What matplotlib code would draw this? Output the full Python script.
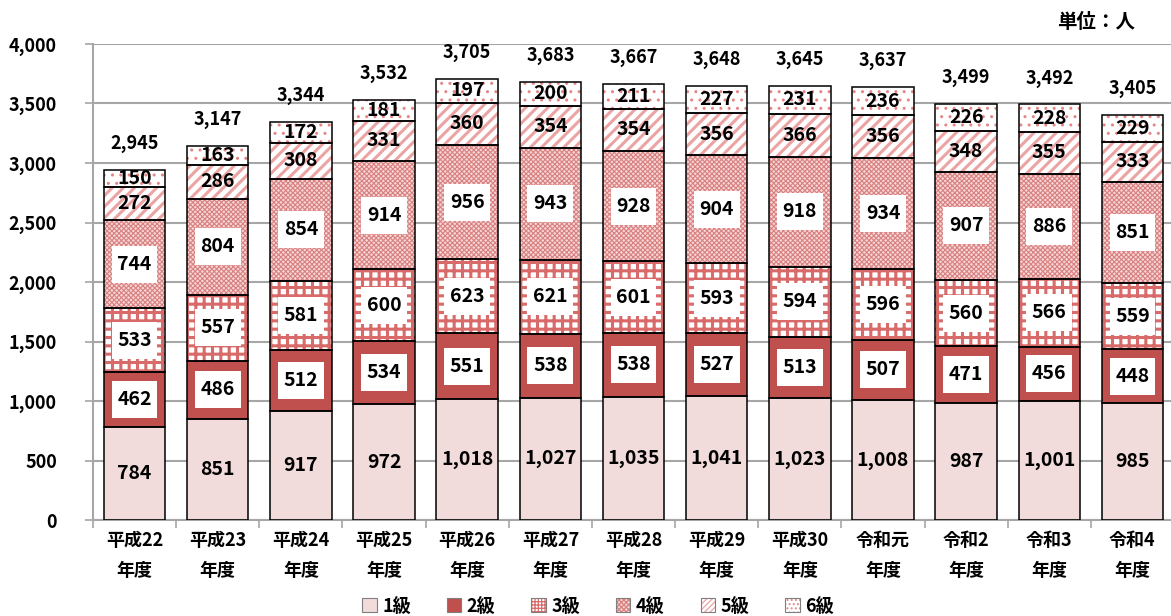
import matplotlib
matplotlib.use("Agg")
import matplotlib.pyplot as plt
from matplotlib.patches import Rectangle, Patch
from matplotlib.legend_handler import HandlerTuple
import numpy as np

plt.rcParams['font.family'] = ['Noto Sans CJK JP', 'DejaVu Sans']

categories = ["平成22\n年度", "平成23\n年度", "平成24\n年度", "平成25\n年度", "平成26\n年度",
              "平成27\n年度", "平成28\n年度", "平成29\n年度", "平成30\n年度", "令和元\n年度",
              "令和2\n年度", "令和3\n年度", "令和4\n年度"]
series_names = ["1級", "2級", "3級", "4級", "5級", "6級"]
grade1 = [784, 851, 917, 972, 1018, 1027, 1035, 1041, 1023, 1008, 987, 1001, 985]
grade2 = [462, 486, 512, 534, 551, 538, 538, 527, 513, 507, 471, 456, 448]
grade3 = [533, 557, 581, 600, 623, 621, 601, 593, 594, 596, 560, 566, 559]
grade4 = [744, 804, 854, 914, 956, 943, 928, 904, 918, 934, 907, 886, 851]
grade5 = [272, 286, 308, 331, 360, 354, 354, 356, 366, 356, 348, 355, 333]
grade6 = [150, 163, 172, 181, 197, 200, 211, 227, 231, 236, 226, 228, 229]
yticks = [0, 500, 1000, 1500, 2000, 2500, 3000, 3500, 4000]

series = [grade1, grade2, grade3, grade4, grade5, grade6]
styles = [
    dict(fc="#F2DCDB", hatch=None, lhatch=None, hc="#F2DCDB", hlw=1.0, box=False),
    dict(fc="#C0504D", hatch=None, lhatch=None, hc="#C0504D", hlw=1.0, box=True),
    dict(fc="white", hatch="++", lhatch="+++++", hc="#D86A6A", hlw=2.2, box=True),
    dict(fc="#F6D6D6", hatch="xxxxxxx", lhatch="xxxxxxx", hc="#D98080", hlw=0.8, box=True),
    dict(fc="white", hatch="///", lhatch="//////", hc="#EBA3A3", hlw=2.2, box=False),
    dict(fc="white", hatch="..", lhatch="....", hc="#E58585", hlw=1.0, box=False),
]

fig = plt.figure(figsize=(11.71, 6.16), dpi=100)
ax = fig.add_axes([93/1171, 1-520/616, (1174-93)/1171, (520-44)/616])

x = np.arange(len(categories))
width = 0.74
bottom = np.zeros(len(categories))
px_per_unit = (520-44)/4000.0
handles = []
for vals, st, name in zip(series, styles, series_names):
    vals = np.array(vals, dtype=float)
    plt.rcParams['hatch.linewidth'] = st["hlw"]
    ax.bar(x, vals, width, bottom=bottom, color=st["fc"], edgecolor=st["hc"],
           hatch=st["hatch"], linewidth=0, zorder=2)
    ax.bar(x, vals, width, bottom=bottom, fill=False, edgecolor="black",
           linewidth=1.1, zorder=3)
    plt.rcParams['hatch.linewidth'] = 0.9
    hp = Patch(facecolor=st["fc"], edgecolor=st["hc"], hatch=st["lhatch"], linewidth=0)
    op = Patch(fill=False, edgecolor="#7F7F7F", linewidth=0.8)
    handles.append((hp, op))
    mids = bottom + vals/2
    for xi, m, v in zip(x, mids, vals):
        if st["box"]:
            bh = 37/px_per_unit
            ax.add_patch(Rectangle((xi-0.275, m-bh/2), 0.55, bh, facecolor="white",
                                   edgecolor="none", zorder=4))
        ax.text(xi, m, f"{int(v):,}", ha="center", va="center", fontsize=14,
                fontweight="bold", zorder=5)
    bottom = bottom + vals

for xi, t in zip(x, bottom):
    ax.annotate(f"{int(t):,}", (xi, t), xytext=(0, 19), textcoords="offset points",
                ha="center", va="center", fontsize=13, fontweight="bold")

ax.set_xlim(-0.5, len(categories)-0.5)
ax.set_ylim(0, 4000)
ax.set_yticks(yticks)
ax.set_yticklabels([f"{v:,}" for v in yticks], fontsize=13, fontweight="bold")
ax.set_xticks(x)
ax.set_xticklabels(categories, fontsize=13, fontweight="bold", linespacing=1.75)
ax.set_xticks(np.arange(-0.5, len(categories)), minor=True)
ax.tick_params(axis="x", which="major", length=0, pad=8)
ax.tick_params(axis="x", which="minor", length=6, color="#A6A6A6", width=1.2)
ax.tick_params(axis="y", length=6, color="#A6A6A6", width=1.2, pad=20)
ax.yaxis.grid(True, color="#A6A6A6", linewidth=1.5, zorder=0)
ax.set_axisbelow(True)
for s in ["top", "right"]:
    ax.spines[s].set_visible(False)
for s in ["left", "bottom"]:
    ax.spines[s].set_color("#A6A6A6")
    ax.spines[s].set_linewidth(1.5)

fig.legend(handles=handles, labels=series_names, loc="center",
           bbox_to_anchor=(598/1171, 1-606/616), ncol=6,
           handler_map={tuple: HandlerTuple(ndivide=1, pad=0)},
           frameon=False, prop=dict(size=13, weight="bold"), handlelength=0.8,
           handleheight=0.8, handletextpad=0.3, columnspacing=2.0)

fig.text(1135/1171, 1-22/616, "単位：人", ha="right", va="center", fontsize=14, fontweight="bold")

fig.savefig("out.png", dpi=100)
